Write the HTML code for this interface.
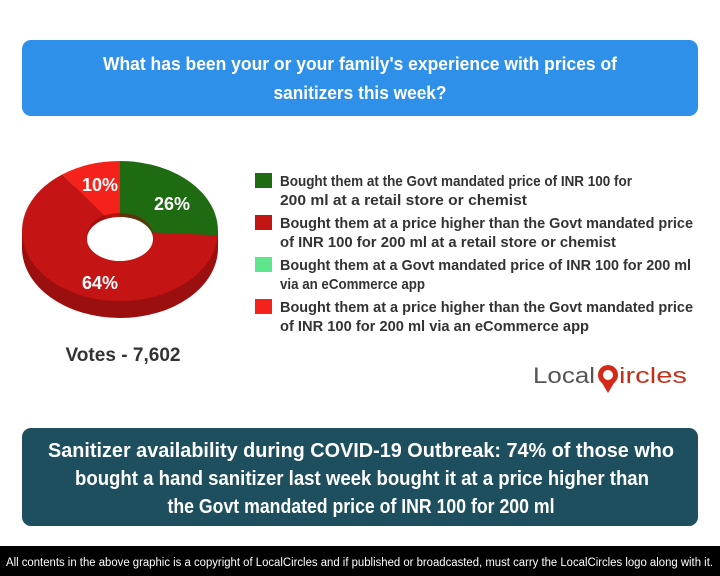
<!DOCTYPE html>
<html><head><meta charset="utf-8"><style>
html,body{margin:0;padding:0;background:#fff;width:720px;height:576px;overflow:hidden}
svg{display:block}
text{font-family:"Liberation Sans",sans-serif;font-weight:bold}
</style></head><body>
<svg width="720" height="576" viewBox="0 0 720 576" xmlns="http://www.w3.org/2000/svg">
<rect x="22" y="40" width="676" height="76" rx="9" fill="#2f90ea"/>
<text x="360" y="70" fill="#fff" font-size="18" text-anchor="middle" textLength="514" lengthAdjust="spacingAndGlyphs">What has been your or your family's experience with prices of</text>
<text x="360" y="99" fill="#fff" font-size="18" text-anchor="middle" textLength="173" lengthAdjust="spacingAndGlyphs">sanitizers this week?</text>

<!-- donut -->
<ellipse cx="120" cy="248" rx="98" ry="70" fill="#9c0f0f"/>
<rect x="22" y="231" width="196" height="17" fill="#9c0f0f"/>
<path d="M120,231 L120,161 A98,70 0 0,1 217.8,235.4 Z" fill="#1e6b12"/>
<path d="M120,231 L217.8,235.4 A98,70 0 1,1 62.4,174.4 Z" fill="#c41414"/>
<path d="M120,231 L62.4,174.4 A98,70 0 0,1 120,161 Z" fill="#f5221c"/>
<ellipse cx="120" cy="239" rx="33" ry="22" fill="#fff"/>
<path d="M87,235 A33,22 0 0,1 153,235 A33,20 0 0,0 87,239 Z" fill="#8a0c0c" opacity="0.6"/>
<text x="100" y="191" fill="#fff" font-size="18" text-anchor="middle">10%</text>
<text x="172" y="210" fill="#fff" font-size="18" text-anchor="middle">26%</text>
<text x="100" y="289" fill="#fff" font-size="18" text-anchor="middle">64%</text>
<text x="123" y="361" fill="#333" font-size="19" text-anchor="middle" textLength="115" lengthAdjust="spacingAndGlyphs">Votes - 7,602</text>

<!-- legend -->
<rect x="255" y="173" width="17" height="15" fill="#1e6b12"/>
<rect x="255" y="215" width="17" height="15" fill="#c41414"/>
<rect x="255" y="257" width="17" height="15" fill="#5ee58e"/>
<rect x="255" y="299" width="17" height="15" fill="#f5221c"/>
<g fill="#333" font-size="15">
<text x="280" y="186" textLength="352" lengthAdjust="spacingAndGlyphs">Bought them at the Govt mandated price of INR 100 for</text>
<text x="280" y="205" textLength="247" lengthAdjust="spacingAndGlyphs">200 ml at a retail store or chemist</text>
<text x="280" y="228" textLength="413" lengthAdjust="spacingAndGlyphs">Bought them at a price higher than the Govt mandated price</text>
<text x="280" y="247" textLength="336" lengthAdjust="spacingAndGlyphs">of INR 100 for 200 ml at a retail store or chemist</text>
<text x="280" y="270" textLength="411" lengthAdjust="spacingAndGlyphs">Bought them at a Govt mandated price of INR 100 for 200 ml</text>
<text x="280" y="289" textLength="145" lengthAdjust="spacingAndGlyphs">via an eCommerce app</text>
<text x="280" y="312" textLength="413" lengthAdjust="spacingAndGlyphs">Bought them at a price higher than the Govt mandated price</text>
<text x="280" y="331" textLength="309" lengthAdjust="spacingAndGlyphs">of INR 100 for 200 ml via an eCommerce app</text>
</g>

<!-- logo -->
<text x="533" y="383" fill="#555" font-size="22" style="font-weight:normal" textLength="62" lengthAdjust="spacingAndGlyphs">Local</text>
<circle cx="608" cy="375" r="10" fill="#d42a1a"/>
<circle cx="608" cy="375" r="5" fill="#fff"/>
<path d="M602,383 L608,393 L614,383 Z" fill="#d42a1a"/>
<text x="619" y="383" fill="#c0321c" font-size="22" style="font-weight:normal" textLength="68" lengthAdjust="spacingAndGlyphs">ircles</text>

<!-- bottom box -->
<rect x="22" y="428" width="676" height="98" rx="9" fill="#1d4f5e"/>
<g fill="#fff" font-size="20" text-anchor="middle">
<text x="361" y="457" textLength="626" lengthAdjust="spacingAndGlyphs">Sanitizer availability during COVID-19 Outbreak: 74% of those who</text>
<text x="362" y="485" textLength="574" lengthAdjust="spacingAndGlyphs">bought a hand sanitizer last week bought it at a price higher than</text>
<text x="361" y="513" textLength="387" lengthAdjust="spacingAndGlyphs">the Govt mandated price of INR 100 for 200 ml</text>
</g>

<rect x="0" y="546" width="720" height="30" fill="#000"/>
<text x="6" y="566" fill="#fff" font-size="11.5" style="font-weight:normal" textLength="707" lengthAdjust="spacingAndGlyphs">All contents in the above graphic is a copyright of LocalCircles and if published or broadcasted, must carry the LocalCircles logo along with it.</text>
</svg>
</body></html>
